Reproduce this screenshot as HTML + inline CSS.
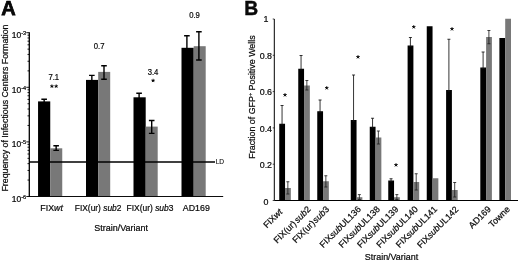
<!DOCTYPE html><html><head><meta charset="utf-8"><style>html,body{margin:0;padding:0;background:#fff}svg{display:block;will-change:transform;transform:translateZ(0)}text{font-family:"Liberation Sans",sans-serif;fill:#0a0a0a;stroke:#0a0a0a;stroke-width:0.22px}</style></head><body>
<svg width="520" height="261" viewBox="0 0 520 261">
<rect width="520" height="261" fill="#fff"/>
<text x="1.2" y="15.3" font-size="20" font-weight="bold" style="stroke:#000;stroke-width:0.75px">A</text>
<text transform="translate(8.1,108.05) rotate(-90)" text-anchor="middle" font-size="9.2" textLength="167.1" lengthAdjust="spacingAndGlyphs">Frequency of Infectious Centers Formation</text>
<rect x="38.05" y="101.4" width="12.2" height="95.1" fill="#000"/>
<rect x="50.25" y="148.3" width="12" height="48.19999999999999" fill="#787878"/>
<path d="M44.15 99.3V103M41.35 99.3H46.949999999999996M41.35 103H46.949999999999996" stroke="#000" stroke-width="1.4" fill="none"/>
<path d="M56.15 145.8V150.4M53.35 145.8H58.949999999999996M53.35 150.4H58.949999999999996" stroke="#000" stroke-width="1.4" fill="none"/>
<rect x="86" y="79.9" width="12.2" height="116.6" fill="#000"/>
<rect x="98.2" y="71.9" width="12" height="124.6" fill="#787878"/>
<path d="M91.85 75.4V84M89.05 75.4H94.64999999999999M89.05 84H94.64999999999999" stroke="#000" stroke-width="1.4" fill="none"/>
<path d="M104 65.8V79.3M101.2 65.8H106.8M101.2 79.3H106.8" stroke="#000" stroke-width="1.4" fill="none"/>
<rect x="133.5" y="97.3" width="12.2" height="99.2" fill="#000"/>
<rect x="145.7" y="126.6" width="12" height="69.9" fill="#787878"/>
<path d="M139.1 93.3V101M136.29999999999998 93.3H141.9M136.29999999999998 101H141.9" stroke="#000" stroke-width="1.4" fill="none"/>
<path d="M151.7 120.5V133.4M148.89999999999998 120.5H154.5M148.89999999999998 133.4H154.5" stroke="#000" stroke-width="1.4" fill="none"/>
<rect x="181.5" y="47.8" width="12.2" height="148.7" fill="#000"/>
<rect x="193.7" y="46.2" width="12" height="150.3" fill="#787878"/>
<path d="M186.9 35.7V58M184.1 35.7H189.70000000000002M184.1 58H189.70000000000002" stroke="#000" stroke-width="1.4" fill="none"/>
<path d="M198.9 31.8V60M196.1 31.8H201.70000000000002M196.1 60H201.70000000000002" stroke="#000" stroke-width="1.4" fill="none"/>
<path d="M29.3 32.2V196.9" stroke="#000" stroke-width="1.3" fill="none"/>
<path d="M28.7 196.5H223.2" stroke="#000" stroke-width="0.95" fill="none"/>
<path d="M29.3 196.50h-3M29.3 180.06h-1.8M29.3 170.45h-1.8M29.3 163.63h-1.8M29.3 158.34h-1.8M29.3 154.01h-1.8M29.3 150.36h-1.8M29.3 147.19h-1.8M29.3 144.40h-1.8M29.3 141.90h-3M29.3 125.46h-1.8M29.3 115.85h-1.8M29.3 109.03h-1.8M29.3 103.74h-1.8M29.3 99.41h-1.8M29.3 95.76h-1.8M29.3 92.59h-1.8M29.3 89.80h-1.8M29.3 87.30h-3M29.3 70.86h-1.8M29.3 61.25h-1.8M29.3 54.43h-1.8M29.3 49.14h-1.8M29.3 44.81h-1.8M29.3 41.16h-1.8M29.3 37.99h-1.8M29.3 35.20h-1.8M29.3 32.7h-3" stroke="#000" stroke-width="0.9" fill="none"/>
<text x="26.2" y="38.00" text-anchor="end" font-size="8.5">10<tspan font-size="5.6" dy="-3.1">-3</tspan></text>
<text x="26.2" y="92.60" text-anchor="end" font-size="8.5">10<tspan font-size="5.6" dy="-3.1">-4</tspan></text>
<text x="26.2" y="147.20" text-anchor="end" font-size="8.5">10<tspan font-size="5.6" dy="-3.1">-5</tspan></text>
<text x="26.2" y="201.80" text-anchor="end" font-size="8.5">10<tspan font-size="5.6" dy="-3.1">-6</tspan></text>
<path d="M29.3 162H215" stroke="#000" stroke-width="1.5"/>
<text x="215.7" y="164.4" font-size="6.6" style="stroke-width:0.1px">LD</text>
<text x="53.8" y="80.3" font-size="8.6" text-anchor="middle" textLength="10.7" lengthAdjust="spacingAndGlyphs">7.1</text>
<path d="M51.9 86.3L51.90 84.90M51.9 86.3L53.23 85.87M51.9 86.3L52.72 87.43M51.9 86.3L51.08 87.43M51.9 86.3L50.57 85.87" stroke="#000" stroke-width="0.95" stroke-linecap="round" fill="none"/>
<path d="M56.2 86.3L56.20 84.90M56.2 86.3L57.53 85.87M56.2 86.3L57.02 87.43M56.2 86.3L55.38 87.43M56.2 86.3L54.87 85.87" stroke="#000" stroke-width="0.95" stroke-linecap="round" fill="none"/>
<text x="99.2" y="48.8" font-size="8.6" text-anchor="middle" textLength="10.7" lengthAdjust="spacingAndGlyphs">0.7</text>
<text x="153" y="74.8" font-size="8.6" text-anchor="middle" textLength="10.7" lengthAdjust="spacingAndGlyphs">3.4</text>
<path d="M153.1 80.6L153.10 79.20M153.1 80.6L154.43 80.17M153.1 80.6L153.92 81.73M153.1 80.6L152.28 81.73M153.1 80.6L151.77 80.17" stroke="#000" stroke-width="0.95" stroke-linecap="round" fill="none"/>
<text x="194.5" y="18.3" font-size="8.6" text-anchor="middle" textLength="10.7" lengthAdjust="spacingAndGlyphs">0.9</text>
<text x="51.6" y="211.0" font-size="9" text-anchor="middle" textLength="22.5" lengthAdjust="spacingAndGlyphs">FIX<tspan font-style="italic">wt</tspan></text>
<text x="98.1" y="211.0" font-size="9" text-anchor="middle" textLength="46.6" lengthAdjust="spacingAndGlyphs">FIX(ur) <tspan font-style="italic">sub</tspan>2</text>
<text x="150" y="211.0" font-size="9" text-anchor="middle" textLength="46.9" lengthAdjust="spacingAndGlyphs">FIX(ur) <tspan font-style="italic">sub</tspan>3</text>
<text x="196.3" y="211.0" font-size="9" text-anchor="middle" textLength="27" lengthAdjust="spacingAndGlyphs">AD169</text>
<text x="121.1" y="230.8" font-size="9" text-anchor="middle" textLength="53.6" lengthAdjust="spacingAndGlyphs">Strain/Variant</text>
<text x="244.3" y="15.0" font-size="19.3" font-weight="bold" style="stroke:#000;stroke-width:0.4px">B</text>
<text transform="translate(254.9,97) rotate(-90)" text-anchor="middle" font-size="9.2" textLength="123.4" lengthAdjust="spacingAndGlyphs">Fraction of GFP<tspan font-size="5.6" dy="-2.8">+</tspan><tspan dy="2.8"> Positive Wells</tspan></text>
<rect x="279.25" y="123.75" width="5.8" height="76.75" fill="#000"/>
<rect x="285.05" y="188" width="5.8" height="12.5" fill="#787878"/>
<path d="M282.04999999999995 105.5V124.75M280.54999999999995 105.5H283.54999999999995M280.54999999999995 124.75H283.54999999999995" stroke="#111" stroke-width="0.85" fill="none"/>
<path d="M287.84999999999997 181.75V194M286.34999999999997 181.75H289.34999999999997M286.34999999999997 194H289.34999999999997" stroke="#222" stroke-width="0.85" fill="none"/>
<path d="M285 95L285.00 93.60M285 95L286.33 94.57M285 95L285.82 96.13M285 95L284.18 96.13M285 95L283.67 94.57" stroke="#000" stroke-width="0.95" stroke-linecap="round" fill="none"/>
<rect x="298.25" y="68.75" width="5.8" height="131.75" fill="#000"/>
<rect x="304.05" y="85.5" width="5.8" height="115.0" fill="#787878"/>
<path d="M301.04999999999995 55.5V69.75M299.54999999999995 55.5H302.54999999999995M299.54999999999995 69.75H302.54999999999995" stroke="#111" stroke-width="0.85" fill="none"/>
<path d="M306.84999999999997 80.5V90M305.34999999999997 80.5H308.34999999999997M305.34999999999997 90H308.34999999999997" stroke="#222" stroke-width="0.85" fill="none"/>
<rect x="317.25" y="111.25" width="5.8" height="89.25" fill="#000"/>
<rect x="323.05" y="181.25" width="5.8" height="19.25" fill="#787878"/>
<path d="M320.04999999999995 100V112.25M318.54999999999995 100H321.54999999999995M318.54999999999995 112.25H321.54999999999995" stroke="#111" stroke-width="0.85" fill="none"/>
<path d="M325.84999999999997 175.75V187M324.34999999999997 175.75H327.34999999999997M324.34999999999997 187H327.34999999999997" stroke="#222" stroke-width="0.85" fill="none"/>
<path d="M326.75 88L326.75 86.60M326.75 88L328.08 87.57M326.75 88L327.57 89.13M326.75 88L325.93 89.13M326.75 88L325.42 87.57" stroke="#000" stroke-width="0.95" stroke-linecap="round" fill="none"/>
<rect x="350.75" y="120" width="5.8" height="80.5" fill="#000"/>
<rect x="356.55" y="197.2" width="5.8" height="3.3000000000000114" fill="#787878"/>
<path d="M353.54999999999995 75V121M352.04999999999995 75H355.04999999999995M352.04999999999995 121H355.04999999999995" stroke="#111" stroke-width="0.85" fill="none"/>
<path d="M359.34999999999997 194.6V199.5M357.84999999999997 194.6H360.84999999999997M357.84999999999997 199.5H360.84999999999997" stroke="#222" stroke-width="0.85" fill="none"/>
<path d="M358 57L358.00 55.60M358 57L359.33 56.57M358 57L358.82 58.13M358 57L357.18 58.13M358 57L356.67 56.57" stroke="#000" stroke-width="0.95" stroke-linecap="round" fill="none"/>
<rect x="369.75" y="126.75" width="5.8" height="73.75" fill="#000"/>
<rect x="375.55" y="137.5" width="5.8" height="63.0" fill="#787878"/>
<path d="M372.54999999999995 118.25V127.75M371.04999999999995 118.25H374.04999999999995M371.04999999999995 127.75H374.04999999999995" stroke="#111" stroke-width="0.85" fill="none"/>
<path d="M378.34999999999997 131V144M376.84999999999997 131H379.84999999999997M376.84999999999997 144H379.84999999999997" stroke="#222" stroke-width="0.85" fill="none"/>
<rect x="388.25" y="180.5" width="5.8" height="20.0" fill="#000"/>
<rect x="394.05" y="197.2" width="5.8" height="3.3000000000000114" fill="#787878"/>
<path d="M391.04999999999995 178.75V181.5M389.54999999999995 178.75H392.54999999999995M389.54999999999995 181.5H392.54999999999995" stroke="#111" stroke-width="0.85" fill="none"/>
<path d="M396.84999999999997 194.6V199.5M395.34999999999997 194.6H398.34999999999997M395.34999999999997 199.5H398.34999999999997" stroke="#222" stroke-width="0.85" fill="none"/>
<path d="M396 165L396.00 163.60M396 165L397.33 164.57M396 165L396.82 166.13M396 165L395.18 166.13M396 165L394.67 164.57" stroke="#000" stroke-width="0.95" stroke-linecap="round" fill="none"/>
<rect x="407.6" y="45.5" width="5.8" height="155.0" fill="#000"/>
<rect x="413.40000000000003" y="182" width="5.8" height="18.5" fill="#787878"/>
<path d="M410.4 37.5V46.5M408.9 37.5H411.9M408.9 46.5H411.9" stroke="#111" stroke-width="0.85" fill="none"/>
<path d="M416.2 173.75V190M414.7 173.75H417.7M414.7 190H417.7" stroke="#222" stroke-width="0.85" fill="none"/>
<path d="M413.75 27L413.75 25.60M413.75 27L415.08 26.57M413.75 27L414.57 28.13M413.75 27L412.93 28.13M413.75 27L412.42 26.57" stroke="#000" stroke-width="0.95" stroke-linecap="round" fill="none"/>
<rect x="426.75" y="26.25" width="5.8" height="174.25" fill="#000"/>
<rect x="432.55" y="178.25" width="5.8" height="22.25" fill="#787878"/>
<rect x="446.1" y="90" width="5.8" height="110.5" fill="#000"/>
<rect x="451.90000000000003" y="190" width="5.8" height="10.5" fill="#787878"/>
<path d="M448.9 39.25V91M447.4 39.25H450.4M447.4 91H450.4" stroke="#111" stroke-width="0.85" fill="none"/>
<path d="M454.7 182.5V197M453.2 182.5H456.2M453.2 197H456.2" stroke="#222" stroke-width="0.85" fill="none"/>
<path d="M452 29L452.00 27.60M452 29L453.33 28.57M452 29L452.82 30.13M452 29L451.18 30.13M452 29L450.67 28.57" stroke="#000" stroke-width="0.95" stroke-linecap="round" fill="none"/>
<rect x="480.3" y="67.5" width="5.8" height="133.0" fill="#000"/>
<rect x="486.1" y="37" width="5.8" height="163.5" fill="#787878"/>
<path d="M483.09999999999997 52V68.5M481.59999999999997 52H484.59999999999997M481.59999999999997 68.5H484.59999999999997" stroke="#111" stroke-width="0.85" fill="none"/>
<path d="M488.9 30.5V43.75M487.4 30.5H490.4M487.4 43.75H490.4" stroke="#222" stroke-width="0.85" fill="none"/>
<rect x="499.4" y="38" width="5.8" height="162.5" fill="#000"/>
<rect x="505.2" y="18.75" width="5.8" height="181.75" fill="#787878"/>
<path d="M274.3 19V200.5H518" stroke="#000" stroke-width="1" fill="none"/>
<path d="M274.3 200.50h-1.6M274.3 164.20h-1.6M274.3 127.90h-1.6M274.3 91.60h-1.6M274.3 55.30h-1.6M274.3 19.00h-1.6" stroke="#000" stroke-width="0.7" fill="none"/>
<text x="265.9" y="205.29999999999998" font-size="8.9" text-anchor="middle" >0</text>
<text x="265.9" y="167.89999999999998" font-size="8.9" text-anchor="middle" >0.2</text>
<text x="265.9" y="131.49999999999997" font-size="8.9" text-anchor="middle" >0.4</text>
<text x="265.9" y="95.10000000000001" font-size="8.9" text-anchor="middle" >0.6</text>
<text x="265.9" y="58.7" font-size="8.9" text-anchor="middle" >0.8</text>
<text x="265.9" y="22.3" font-size="8.9" text-anchor="middle" >1</text>
<text transform="translate(283.05,212.50) rotate(-45)" text-anchor="end" font-size="8.9">FIX<tspan font-style="italic">wt</tspan></text>
<text transform="translate(311.25,209.80) rotate(-45)" text-anchor="end" font-size="8.9">FIX(ur)<tspan font-style="italic" dx="1.3">sub</tspan>2</text>
<text transform="translate(329.65,209.80) rotate(-45)" text-anchor="end" font-size="8.9">FIX(ur)<tspan font-style="italic" dx="0.8">sub</tspan>3</text>
<text transform="translate(361.55,209.80) rotate(-45)" text-anchor="end" font-size="8.9">FIX<tspan font-style="italic">sub</tspan>UL136</text>
<text transform="translate(380.55,209.80) rotate(-45)" text-anchor="end" font-size="8.9">FIX<tspan font-style="italic">sub</tspan>UL138</text>
<text transform="translate(399.05,209.80) rotate(-45)" text-anchor="end" font-size="8.9">FIX<tspan font-style="italic">sub</tspan>UL139</text>
<text transform="translate(418.40,209.80) rotate(-45)" text-anchor="end" font-size="8.9">FIX<tspan font-style="italic">sub</tspan>UL140</text>
<text transform="translate(437.85,209.80) rotate(-45)" text-anchor="end" font-size="8.9">FIX<tspan font-style="italic">sub</tspan>UL141</text>
<text transform="translate(459.10,210.10) rotate(-45)" text-anchor="end" font-size="8.9">FIX<tspan font-style="italic">sub</tspan>UL142</text>
<text transform="translate(491.40,209.80) rotate(-45)" text-anchor="end" font-size="8.9">AD169</text>
<text transform="translate(510.50,209.80) rotate(-45)" text-anchor="end" font-size="8.9">Towne</text>
<text x="391.5" y="259.5" font-size="9" text-anchor="middle" textLength="53.3" lengthAdjust="spacingAndGlyphs">Strain/Variant</text>
</svg></body></html>
